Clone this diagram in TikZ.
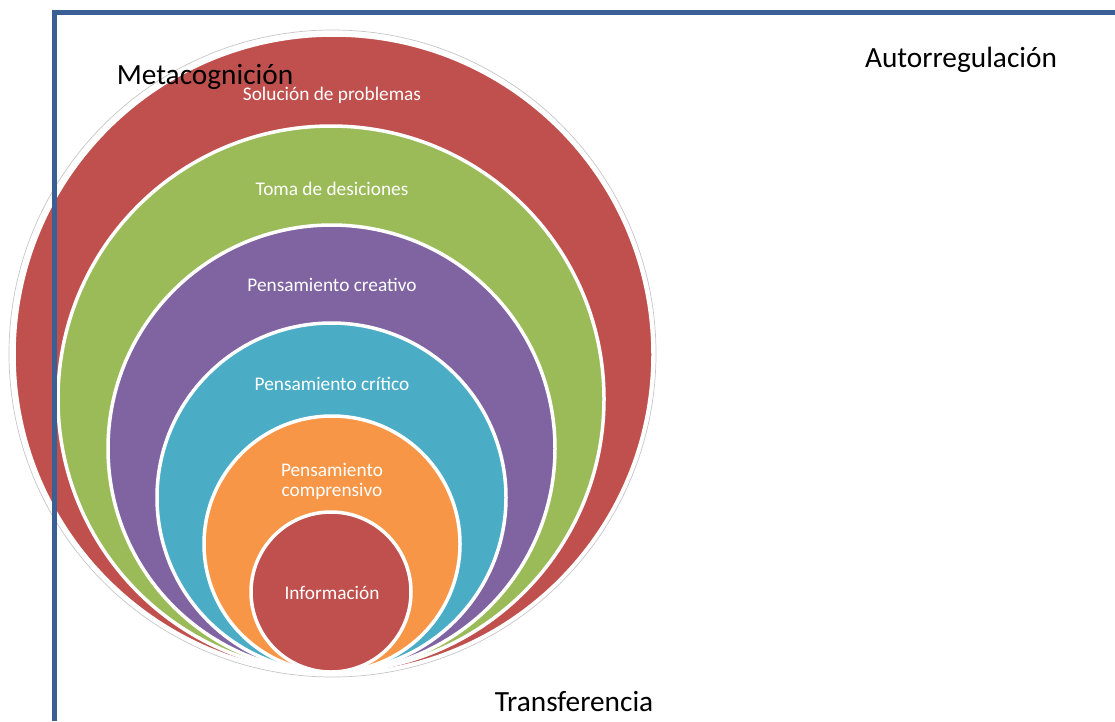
\documentclass[tikz,border=0pt]{standalone}
\usepackage{fontspec}
\setmainfont{Carlito}
\definecolor{cred}{HTML}{C0504D}
\definecolor{cgreen}{HTML}{9BBB59}
\definecolor{cpurple}{HTML}{8064A2}
\definecolor{ccyan}{HTML}{4BACC6}
\definecolor{corange}{HTML}{F79646}
\definecolor{cframe}{HTML}{3A5F94}
\tikzset{
  ring/.style={draw=white, line width=3.5pt},
  inlabel/.style={text=white, font=\fontsize{19.3}{22}\selectfont, anchor=base, inner sep=0pt},
  outlabel/.style={text=black, font=\fontsize{29.3}{32}\selectfont, anchor=base, inner sep=0pt},
  framestyle/.style={draw=cframe, line width=5pt}
}
\begin{document}
\begin{tikzpicture}[x=1pt,y=-1pt]
\useasboundingbox (0,0) rectangle (1115,721);
% outer faint outline
\draw[gray!45, line width=0.7pt] (332.5,353.5) circle[radius=323.5pt];
% circles
\fill[ring, fill=cred]    (333.5,354.5) circle[radius=319.5pt];
\fill[ring, fill=cgreen]  (331,399)     circle[radius=273pt];
\fill[ring, fill=cpurple] (331.5,448.5) circle[radius=223.5pt];
\fill[ring, fill=ccyan]   (331.5,497.5) circle[radius=174.5pt];
\fill[ring, fill=corange] (332,544)     circle[radius=128pt];
\fill[ring, fill=cred]    (331,592)     circle[radius=80pt];
% labels
\node[inlabel] (l1) at (332,100.5) {Solución de problemas};
\node[inlabel] (l2) at (332,195) {Toma de desiciones};
\node[inlabel] (l3) at (332,291) {Pensamiento creativo};
\node[inlabel] (l4) at (332,390) {Pensamiento crítico};
\node[inlabel] (l5) at (332,476) {Pensamiento};
\node[inlabel] (l6) at (332,496.5) {comprensivo};
\node[inlabel] (l7) at (332,599) {Información};
% frame
\draw[framestyle] (54.5,721) -- (54.5,12.5) -- (1115,12.5);
% outer labels
\node[outlabel] (meta) at (205,84) {Metacognición};
\node[outlabel] (auto) at (961,67) {Autorregulación};
\node[outlabel] (trans) at (574,711) {Transferencia};
\end{tikzpicture}
\end{document}
